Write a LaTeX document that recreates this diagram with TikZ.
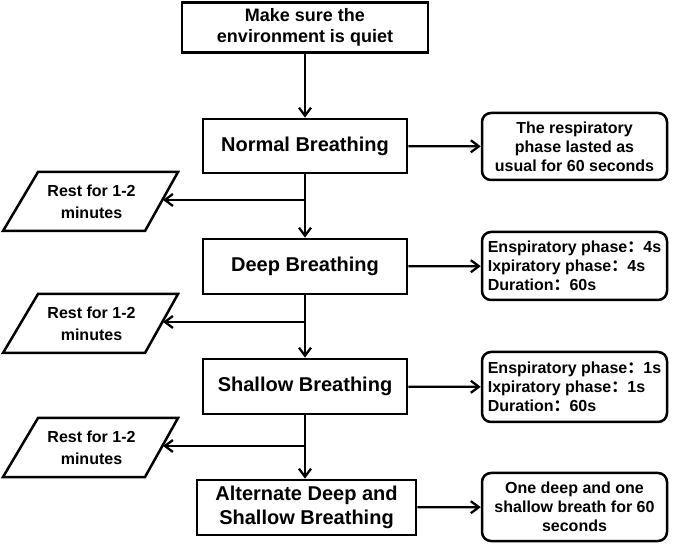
\documentclass[tikz,border=0pt]{standalone}
\usepackage{fontspec}
\setmainfont{Liberation Sans}
\newfontfamily\cjk{Noto Sans CJK SC}
\usetikzlibrary{arrows.meta,calc}
\newcommand{\fw}{{\cjk ：}}
\begin{document}
\begin{tikzpicture}[x=1pt,y=-1pt,
  mainbox/.style={draw, line width=2.8pt, minimum height=55pt, inner sep=0pt, align=center,
    font=\bfseries\fontsize{20}{23.5}\selectfont},
  notebox/.style={draw, line width=2.5pt, rounded corners=9pt, minimum width=185pt, inner sep=0pt,
    font=\bfseries\fontsize{16}{19}\selectfont},
  restbox/.style={inner sep=0pt, align=center, font=\bfseries\fontsize{16}{22}\selectfont},
  arr/.style={line width=2.3pt, -{Straight Barb[length=8pt,width=12pt,line width=2.3pt]}},
  ln/.style={line width=2.3pt}]
\fill[white] (0,0) rectangle (678,545);
\useasboundingbox (0,0) rectangle (678,545);

% main column
\node[mainbox, minimum width=246pt, minimum height=50pt, font=\bfseries\fontsize{18}{21.5}\selectfont] (top) at (305,27.5) {Make sure the\\environment is quiet};
\node[mainbox, minimum width=204pt, minimum height=54pt] (normal) at (305,146) {Normal Breathing};
\node[mainbox, minimum width=204pt] (deep) at (305,266.5) {Deep Breathing};
\node[mainbox, minimum width=204pt] (shallow) at (305,386.5) {Shallow Breathing};
\node[mainbox, minimum width=219pt] (alt) at (306.5,507.5) {Alternate Deep and\\Shallow Breathing};

% notes
\node[notebox, minimum height=67pt, align=center] (r1) at (574.5,146.5) {The respiratory\\phase lasted as\\usual for 60 seconds};
\node[notebox, minimum height=68pt, align=left] (r2) at (574.5,266) {Enspiratory phase\fw4s\\Ixpiratory phase\fw4s\\Duration\fw60s};
\node[notebox, minimum height=70pt, align=left] (r3) at (574.5,387) {Enspiratory phase\fw1s\\Ixpiratory phase\fw1s\\Duration\fw60s};
\node[notebox, minimum height=68pt, align=center] (r4) at (574.5,507) {One deep and one\\shallow breath for 60\\seconds};

% rest parallelograms
\foreach \n/\cy in {1/201.5, 2/323.5, 3/447.5}{
  \draw[line width=2.5pt, line join=miter] (3,\cy+29.5) -- (145,\cy+29.5) -- (178,\cy-29.5) -- (38,\cy-29.5) -- cycle;
  \node[restbox] (rest\n) at (91.5,\cy) {Rest for 1-2\\minutes};
  \coordinate (e\n) at (163,\cy-1.5);
  \coordinate (j\n) at (305,\cy-1.5);
}

% connectors
\draw[arr] (top) -- (normal);
\draw[arr] (normal) -- (deep);
\draw[arr] (deep) -- (shallow);
\draw[arr] (shallow) -- (alt.north -| shallow.south);
\draw[arr] (j1) -- (e1);
\draw[arr] (j2) -- (e2);
\draw[arr] (j3) -- (e3);
\draw[arr] (normal) -- (r1);
\draw[arr] (deep) -- (r2);
\draw[arr] (shallow) -- (r3);
\draw[arr] (alt) -- (r4);
\end{tikzpicture}
\end{document}
